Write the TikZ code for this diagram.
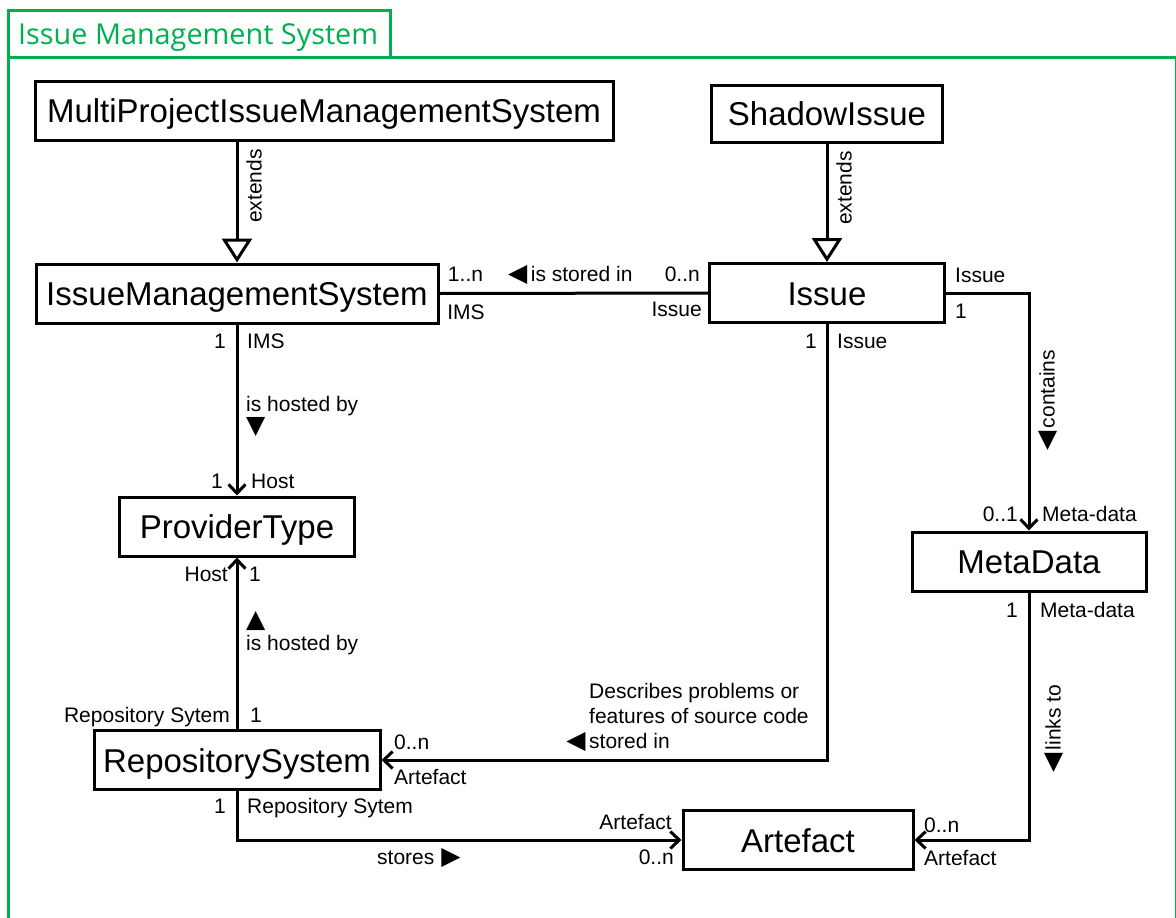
\documentclass[tikz,border=0pt]{standalone}
\usepackage{fontspec}
\setmainfont{Liberation Sans}
\newfontfamily\titlefont{Open Sans}
\newfontfamily\symfont{DejaVu Sans}
\usetikzlibrary{arrows.meta}
\definecolor{frameGreen}{RGB}{0,176,80}
\newcommand{\symtri}[1]{{\symfont\fontsize{25}{25}\selectfont #1}}

\tikzset{
  cls/.style={draw=black, line width=3pt, fill=white, minimum height=59pt,
    inner sep=0pt, text height=24pt, text depth=0pt,
    font=\fontsize{33}{36}\selectfont},
  lbl/.style={inner sep=0pt, text height=15pt, text depth=0pt,
    font=\fontsize{21}{25}\selectfont},
  mlbl/.style={inner sep=0pt, align=left, font=\fontsize{21}{25}\selectfont},
  link/.style={line width=3pt},
  assoc/.style={line width=3pt, -{Straight Barb[length=9pt,width=17pt]}},
  gen/.style={line width=3pt, -{Triangle[open,length=24pt,width=30pt,fill=white]}},
}

\begin{document}
\begin{tikzpicture}[x=1pt,y=-1pt]
\useasboundingbox (0,0) rectangle (1176,918);

% package frame with its name tab
\draw[frameGreen, line width=3pt] (8,57) rectangle (1176.5,935);
\draw[frameGreen, line width=3pt] (8,10) rectangle (390,57);
\node[anchor=west, inner sep=0pt, text=frameGreen, text height=20.5pt, text depth=0pt,
  font=\titlefont\fontsize{28.8}{30}\selectfont] (title) at (18,34) {Issue Management System};

% classes
\node[cls, minimum width=578pt] (multi) at (324,110.5) {MultiProjectIssueManagementSystem};
\node[cls, minimum width=231pt, minimum height=57pt] (shadow) at (827,113.5) {ShadowIssue};
\node[cls, minimum width=402pt] (ims) at (237,293.5) {IssueManagementSystem};
\node[cls, minimum width=235pt] (issue) at (827,293) {Issue};
\node[cls, minimum width=235pt] (prov) at (237,526.5) {ProviderType};
\node[cls, minimum width=234pt] (meta) at (1029,561.5) {MetaData};
\node[cls, minimum width=286pt] (repo) at (237,760) {RepositorySystem};
\node[cls, minimum width=230pt] (art) at (798,840) {Artefact};

% generalisations
\draw[gen] (multi.south -| ims.north) -- (ims.north);
\draw[gen] (shadow.south) -- (shadow.south |- issue.north);
\node[lbl, rotate=90] (extA) at (254,186) {extends};
\node[lbl, rotate=90] (extB) at (844,188) {extends};

% associations
\draw[link] (ims.east) -- (issue.west);
\draw[assoc] (ims.south) -- (prov.north);
\draw[assoc] (repo.north) -- (prov.south);
\draw[assoc] (issue.south) |- (repo.east);
\draw[assoc] (issue.east) -| (meta.north);
\draw[assoc] (meta.south) |- (art.east);
\draw[assoc] (repo.south) |- (art.west);

% IssueManagementSystem -- Issue
\node[lbl] (l1) at (465.5,274) {1..n};
\node[lbl] (l2) at (466,312) {IMS};
\node[lbl, anchor=west] (l3) at (508,274) {\symtri{◀}\,is stored in};
\node[lbl, anchor=east] (l4) at (700,274) {0..n};
\node[lbl, anchor=east] (l5) at (702,309) {Issue};

% Issue -- MetaData
\node[lbl, anchor=west] (l6) at (955,275) {Issue};
\node[lbl, anchor=west] (l7) at (955,311) {1};
\node[lbl, rotate=90, anchor=west] (l8) at (1047,451) {\symtri{◀}\,contains};
\node[lbl, anchor=east] (l9) at (1018,514) {0..1};
\node[lbl, anchor=west] (l10) at (1042,514) {Meta-data};

% MetaData -- Artefact
\node[lbl, anchor=east] (l11) at (1018,610) {1};
\node[lbl, anchor=west] (l12) at (1040,610) {Meta-data};
\node[lbl, rotate=90, anchor=west] (l13) at (1053,773) {\symtri{◀}\,links to};
\node[lbl, anchor=west] (l14) at (924,825) {0..n};
\node[lbl, anchor=west] (l15) at (924,858) {Artefact};

% IssueManagementSystem -- ProviderType
\node[lbl, anchor=east] (l16) at (226,341) {1};
\node[lbl, anchor=west] (l17) at (247,341) {IMS};
\node[mlbl, anchor=north west] (l18) at (246,396) {is hosted by\\[-3pt]\symtri{▼}};
\node[lbl, anchor=east] (l19) at (223,481) {1};
\node[lbl, anchor=west] (l20) at (251,481) {Host};

% RepositorySystem -- ProviderType
\node[lbl, anchor=east] (l21) at (228,574) {Host};
\node[lbl, anchor=west] (l22) at (249,574) {1};
\node[mlbl, anchor=south west] (l23) at (246,655) {\symtri{▲}\\[-2pt]is hosted by};
\node[lbl, anchor=east] (l24) at (230,715) {Repository Sytem};
\node[lbl, anchor=west] (l25) at (250,715) {1};

% Issue -- RepositorySystem
\node[lbl, anchor=east] (l26) at (817,341) {1};
\node[lbl, anchor=west] (l27) at (837,341) {Issue};
\node[mlbl, anchor=north west] (l28) at (589,683)
  {Describes problems or\\features of source code\\\llap{\symtri{◀}\,}stored in};
\node[lbl, anchor=west] (l29) at (394,742) {0..n};
\node[lbl, anchor=west] (l30) at (394,777) {Artefact};

% RepositorySystem -- Artefact
\node[lbl, anchor=east] (l31) at (226,806) {1};
\node[lbl, anchor=west] (l32) at (247,806) {Repository Sytem};
\node[lbl, anchor=west] (l33) at (377,857) {stores\,\,\symtri{▶}};
\node[lbl, anchor=east] (l34) at (672,822) {Artefact};
\node[lbl, anchor=east] (l35) at (674,857) {0..n};
\end{tikzpicture}
\end{document}
